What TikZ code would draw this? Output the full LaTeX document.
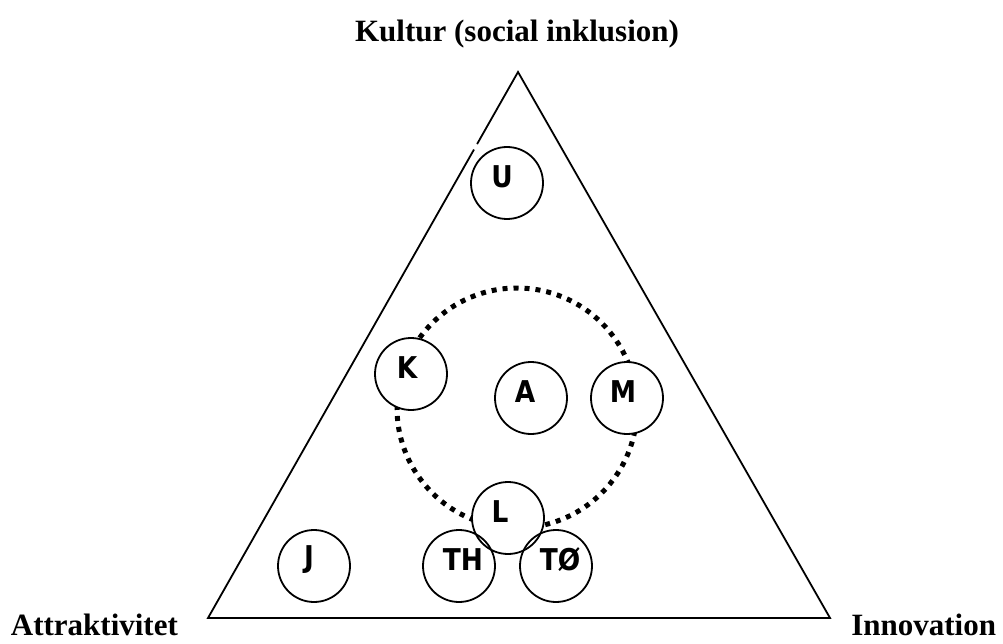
\documentclass[tikz,border=0pt]{standalone}
\usepackage{fontspec}
\setmainfont{Liberation Serif}
\newfontfamily\circfont[FakeStretch=0.88]{DejaVu Sans}
\usetikzlibrary{calc}

\begin{document}
\begin{tikzpicture}[x=1pt, y=-1pt, line width=1.8pt]
    \tikzstyle{member}=[circle, fill=white, minimum size=72pt, inner sep=0pt]
    \tikzstyle{member text}=[yshift=6pt, font=\circfont\bfseries\fontsize{30}{30}\selectfont]
    \tikzstyle{corner}=[font=\bfseries\fontsize{31}{31}\selectfont, inner sep=0pt]
    \tikzstyle{ring}=[circle, draw, minimum size=240pt, line width=5pt, dash pattern=on 5pt off 6pt]

    \useasboundingbox (0,0) rectangle (1003,644);

    % corner labels
    \node[corner] (kultur) at (517,34) {Kultur (social inklusion)};
    \node[corner, anchor=base west] (attr) at (10,635) {Attraktivitet};
    \node[corner, anchor=base east] (innov) at (997,635) {Innovation};

    % the triangle
    \coordinate (top) at (518,72);
    \coordinate (left) at (208,618);
    \coordinate (right) at (830,618);
    \draw ($(top)!0.142!(left)$) -- (left) -- (right) -- (top) -- ($(top)!0.132!(left)$);

    % dotted ring
    \node[ring] (ring) at (517,408) {};

    % circles (\d = sideways shift of the letters)
    \foreach \n/\t/\x/\y/\d in {u/U/507/183/-5, k/K/411/374/-4, a/A/531/398/-6, m/M/627/398/-4,
                                l/L/508/518/-8, j/J/314/566/-5, th/TH/459/566/4, to/TØ/556/566/4}
    \node[member, label={[member text, xshift=\d pt]center:\t}] (\n) at (\x,\y) {};

    \foreach \n in {u, k, a, m, l, j, th, to}
    \draw (\n) circle [radius=36pt];

\end{tikzpicture}
\end{document}
